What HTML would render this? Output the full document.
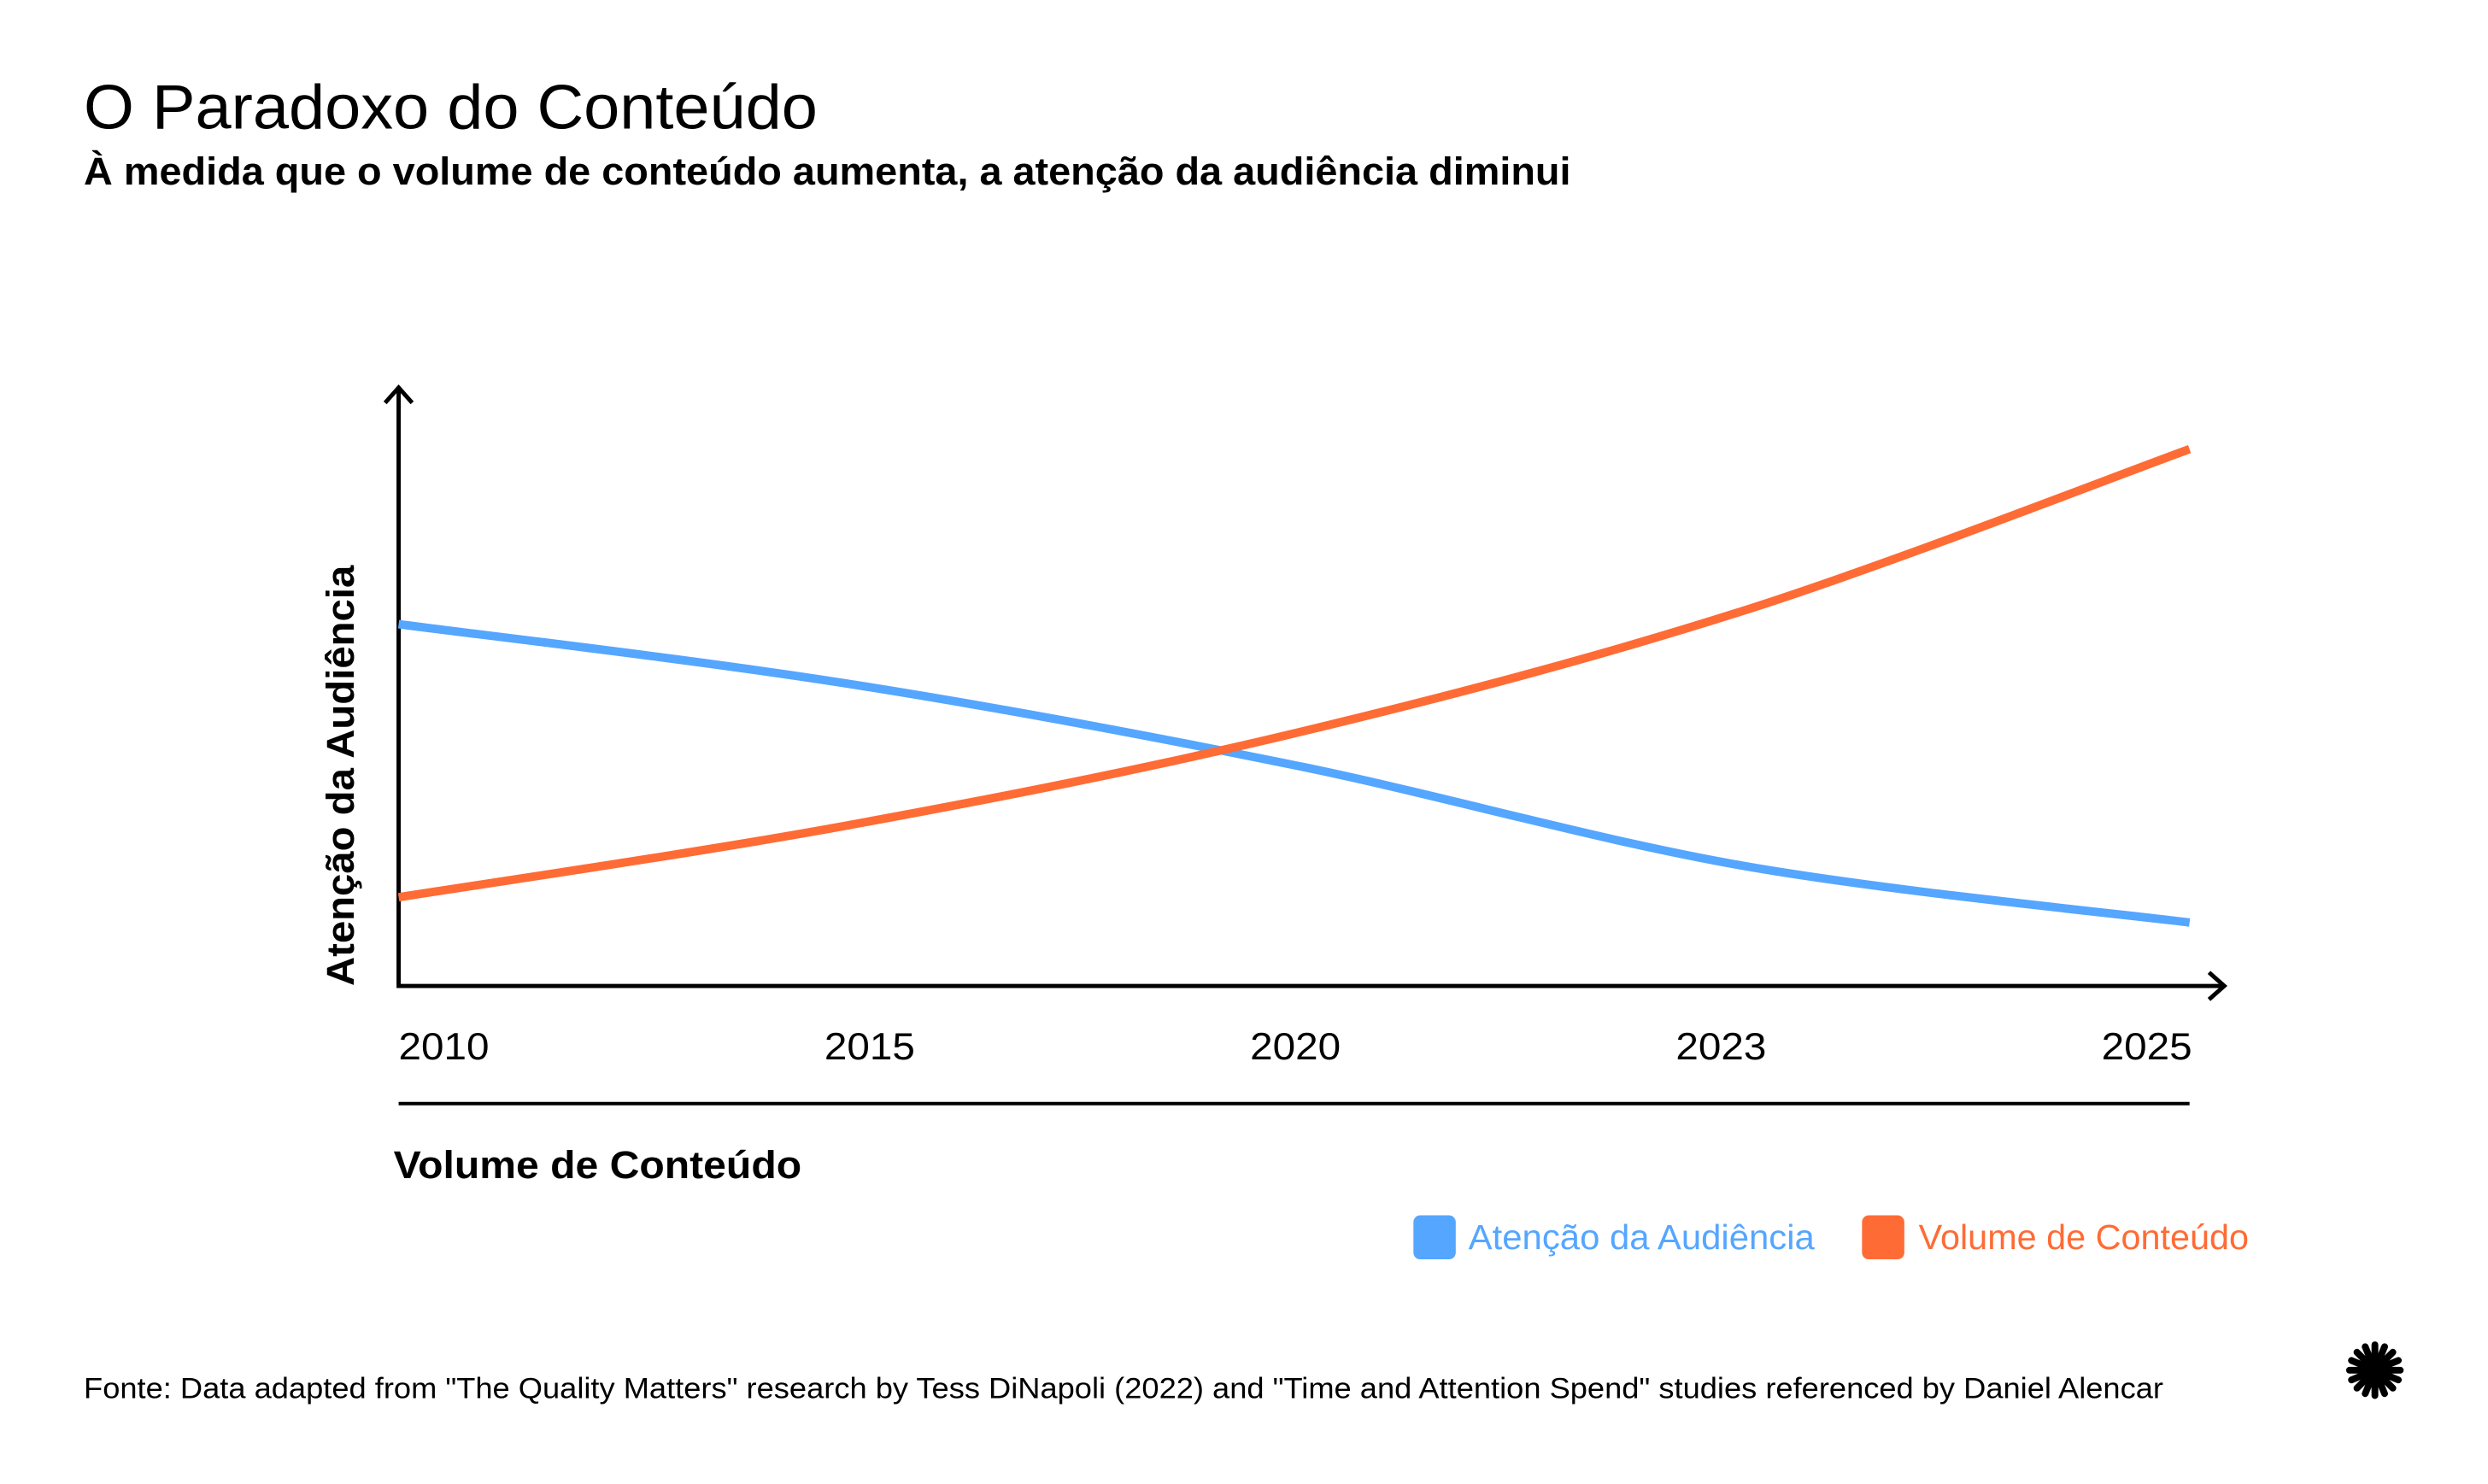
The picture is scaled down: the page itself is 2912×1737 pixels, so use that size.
<!DOCTYPE html>
<html><head><meta charset="utf-8"><style>
html,body{margin:0;padding:0;background:#fff;}
svg{display:block;font-family:"Liberation Sans",sans-serif;}
</style></head><body>
<svg width="2912" height="1737" viewBox="0 0 2912 1737">
<g transform="scale(0.9906)">
<text x="99" y="152" font-size="74" fill="#000" textLength="867" lengthAdjust="spacingAndGlyphs">O Paradoxo do Conteúdo</text>
<text x="99" y="218" font-size="46" font-weight="bold" fill="#000" textLength="1757" lengthAdjust="spacingAndGlyphs">À medida que o volume de conteúdo aumenta, a atenção da audiência diminui</text>
<g id="axes">
<path d="M471 460 L471 1165 L2626 1165" fill="none" stroke="#000" stroke-width="5"/>
<path d="M455 476 L471 458 L487 476" fill="none" stroke="#000" stroke-width="5"/>
<path d="M2610 1149 L2628 1165 L2610 1181" fill="none" stroke="#000" stroke-width="5"/>
<line x1="471" y1="1304" x2="2587" y2="1304" stroke="#000" stroke-width="4"/>
<text transform="translate(418,1165) rotate(-90)" font-size="46" font-weight="bold" fill="#000" textLength="497" lengthAdjust="spacingAndGlyphs">Atenção da Audiência</text>
<text x="465" y="1392" font-size="46" font-weight="bold" fill="#000" textLength="482" lengthAdjust="spacingAndGlyphs">Volume de Conteúdo</text>
</g>
<g id="ticks"></g>
<g id="series"></g>
<g>
<rect x="1670" y="1436" width="50" height="52" rx="8" fill="#55A6FF"/>
<text x="1735" y="1476" font-size="41" fill="#55A6FF" textLength="409" lengthAdjust="spacingAndGlyphs">Atenção da Audiência</text>
<rect x="2200" y="1436" width="50" height="52" rx="8" fill="#FF6B35"/>
<text x="2267" y="1476" font-size="41" fill="#FF6B35" textLength="390" lengthAdjust="spacingAndGlyphs">Volume de Conteúdo</text>
</g>
<text x="99" y="1652" font-size="35" fill="#000" textLength="2457" lengthAdjust="spacingAndGlyphs">Fonte: Data adapted from "The Quality Matters" research by Tess DiNapoli (2022) and "Time and Attention Spend" studies referenced by Daniel Alencar</text>
<g id="logo"></g>
</g>
</svg>
<script>
const categories = ["2010","2015","2020","2023","2025"];
const attention = [61.6, 51.5, 37.6, 20.5, 10.8];
const volume = [15.1, 27.3, 43.0, 63.8, 91.4];
const X0=471, X1=2587, YB=1165, YT=471;
const ns="http://www.w3.org/2000/svg";
function xs(i){return X0+(X1-X0)*i/(categories.length-1);}
function ys(v){return YB-(YB-YT)*v/100;}
const ticks=document.getElementById('ticks');
categories.forEach((c,i)=>{
  const t=document.createElementNS(ns,'text');
  
  
  t.setAttribute('x',X0+i*503);t.setAttribute('y',1252);t.setAttribute('font-size','45');
  t.setAttribute('textLength','107');t.setAttribute('lengthAdjust','spacingAndGlyphs');
  t.textContent=c;ticks.appendChild(t);
});
function pathFor(vals){
  const p=vals.map((v,i)=>[xs(i),ys(v)]);
  let d=`M${p[0][0]} ${p[0][1]}`;
  for(let i=0;i<p.length-1;i++){
    const p0=p[i-1]||p[i],p1=p[i],p2=p[i+1],p3=p[i+2]||p[i+1];
    const c1=[p1[0]+(p2[0]-p0[0])/6,p1[1]+(p2[1]-p0[1])/6];
    const c2=[p2[0]-(p3[0]-p1[0])/6,p2[1]-(p3[1]-p1[1])/6];
    d+=` C${c1[0]} ${c1[1]} ${c2[0]} ${c2[1]} ${p2[0]} ${p2[1]}`;
  }
  return d;
}
const g=document.getElementById('series');
[[attention,'#55A6FF','line-attention'],[volume,'#FF6B35','line-volume']].forEach(([v,c,n])=>{
  const el=document.createElementNS(ns,'path');
  
  
  el.setAttribute('d',pathFor(v));el.setAttribute('fill','none');
  el.setAttribute('stroke',c);el.setAttribute('stroke-width','10');
  g.appendChild(el);
});
const logo=document.getElementById('logo');
for(let k=0;k<16;k++){
  const a=k*Math.PI/8;
  const l=document.createElementNS(ns,'line');
  
  
  l.setAttribute('x1',2806);l.setAttribute('y1',1619);
  l.setAttribute('x2',2806+30*Math.cos(a));l.setAttribute('y2',1619+30*Math.sin(a));
  l.setAttribute('stroke','#000');l.setAttribute('stroke-width','8');l.setAttribute('stroke-linecap','round');
  logo.appendChild(l);
}
const cc=document.createElementNS(ns,'circle');


cc.setAttribute('cx',2806);cc.setAttribute('cy',1619);cc.setAttribute('r',20);logo.appendChild(cc);
</script>
</body></html>
